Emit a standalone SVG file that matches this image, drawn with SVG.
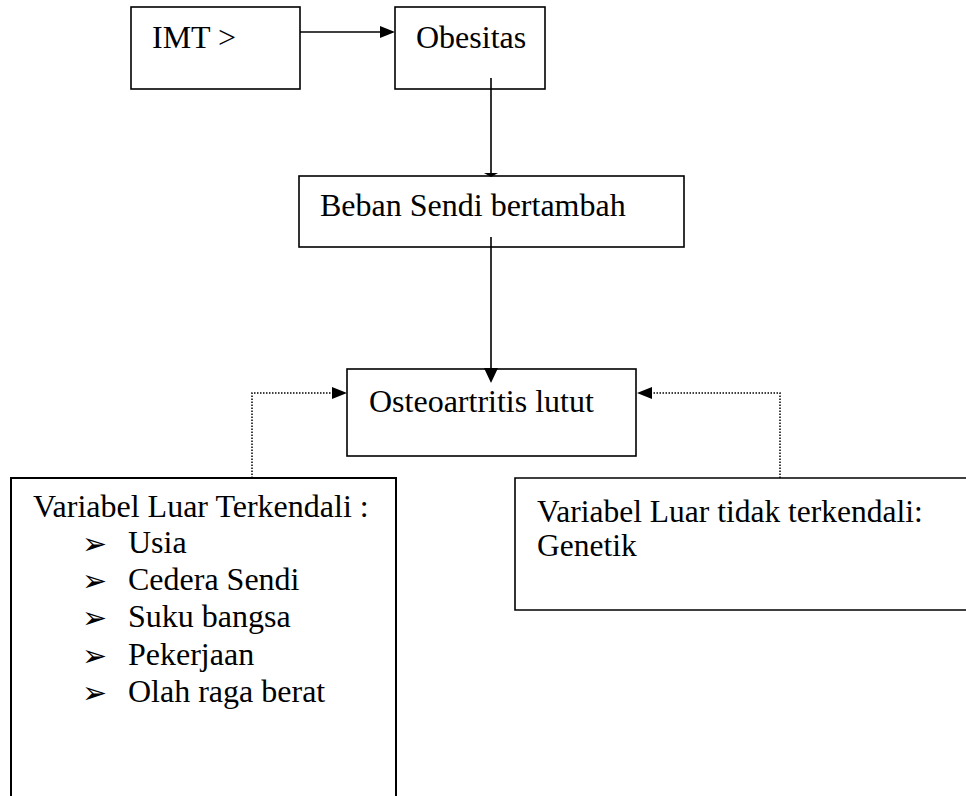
<svg xmlns="http://www.w3.org/2000/svg" width="966" height="796" viewBox="0 0 966 796">
<style>
.box{fill:#fff;stroke:#000;stroke-width:1.6}
.t{font-family:"Liberation Serif","Times New Roman",serif;font-size:32px;fill:#000}
.b{font-family:"DejaVu Sans",sans-serif;font-size:30px;fill:#000}
.ln{fill:none;stroke:#000;stroke-width:1.6}
.dot{fill:none;stroke:#000;stroke-width:1.5;stroke-dasharray:1.5 1.5}
.ah{fill:#000}
</style>
<rect width="966" height="796" fill="#fff"/>
<g id="imt"><rect class="box" x="131" y="7" width="169" height="82"/><text class="t" x="152" y="48">IMT &gt;</text></g>
<g id="obesitas"><rect class="box" x="395" y="7" width="150" height="82"/><text class="t" x="416" y="48">Obesitas</text></g>
<g id="beban"><rect class="box" x="299" y="176" width="385" height="71"/><text class="t" x="320" y="216">Beban Sendi bertambah</text></g>
<g id="osteo"><rect class="box" x="347" y="369" width="289" height="87"/><text class="t" x="369" y="412">Osteoartritis lutut</text></g>
<g id="terkendali"><path class="box" d="M11,796 V478 H396 V796" style="stroke-width:2"/>
<text class="t" x="33" y="517">Variabel Luar Terkendali :</text>
<text class="b" x="82" y="554">➢</text><text class="t" x="128" y="553">Usia</text>
<text class="b" x="82" y="591">➢</text><text class="t" x="128" y="590">Cedera Sendi</text>
<text class="b" x="82" y="628">➢</text><text class="t" x="128" y="627">Suku bangsa</text>
<text class="b" x="82" y="666">➢</text><text class="t" x="128" y="665">Pekerjaan</text>
<text class="b" x="82" y="703">➢</text><text class="t" x="128" y="702">Olah raga berat</text>
</g>
<g id="tidak"><path class="box" d="M966,478 H515 V610 H966"/>
<text class="t" x="537" y="522" style="font-size:31.5px">Variabel Luar tidak terkendali:</text>
<text class="t" x="537" y="556" style="font-size:31.5px">Genetik</text>
</g>
<g id="connectors">
<line class="ln" x1="300" y1="32" x2="382" y2="32"/><polygon class="ah" points="380,26 395,32 380,38"/>
<line class="ln" x1="491" y1="78" x2="491" y2="174"/><polygon class="ah" points="484,173 498,173 491,177"/>
<line class="ln" x1="491" y1="237" x2="491" y2="372"/><polygon class="ah" points="484,368 498,368 491,383"/>
<path class="dot" d="M252,478 V393 H333"/><polygon class="ah" points="332,387 347,393 332,399"/>
<path class="dot" d="M780,478 V393 H652"/><polygon class="ah" points="652,387 637,393 652,399"/>
</g>
</svg>
